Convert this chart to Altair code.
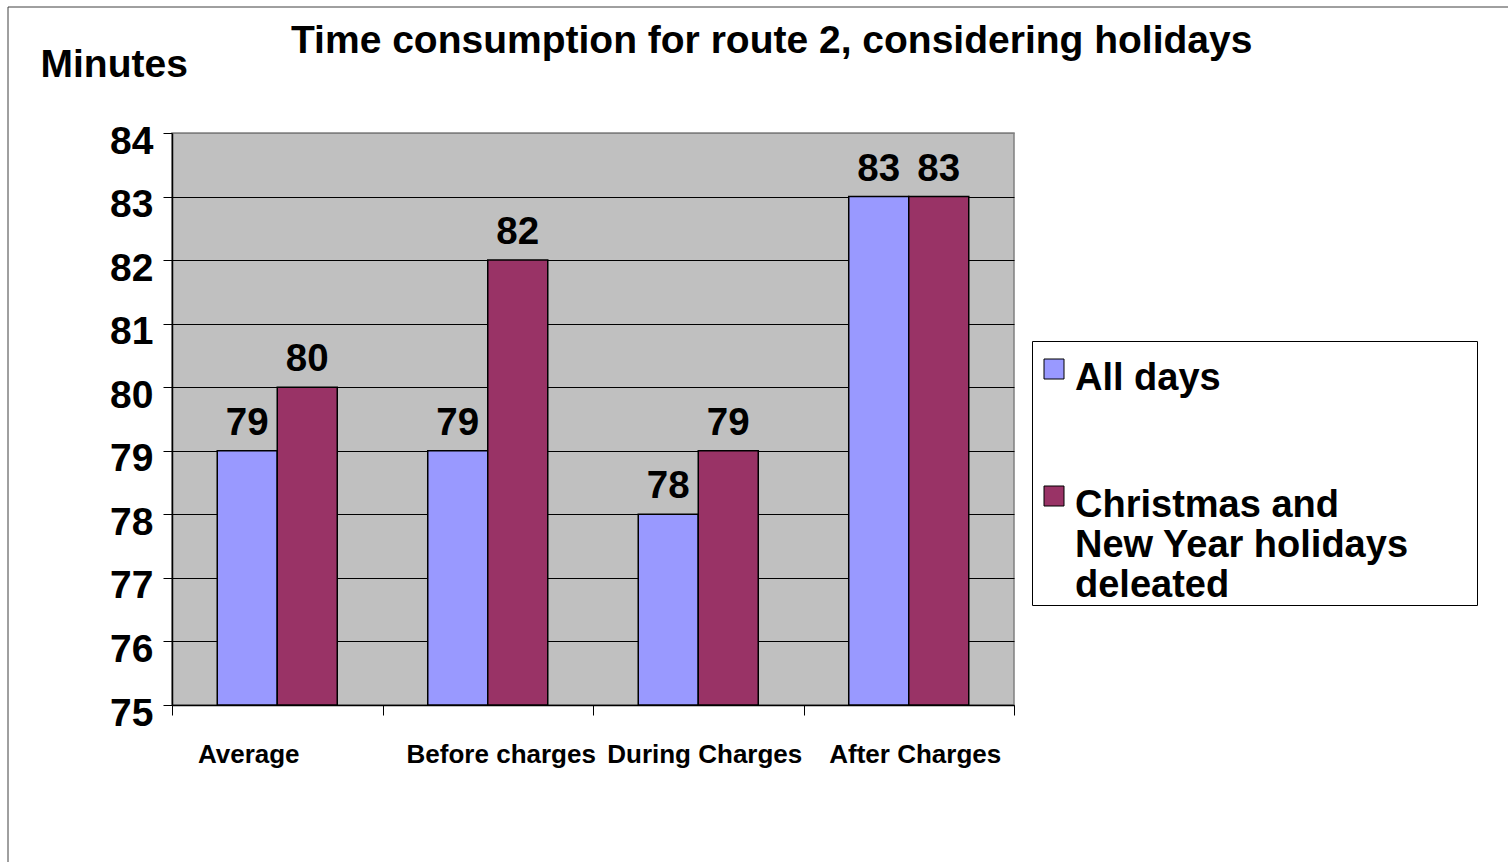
import altair as alt
import pandas as pd

# Source values
categories = ["Average", "Before charges", "During Charges", "After Charges"]
series_names = ["All days", "Christmas and New Year holidays deleated"]
all_days = [79, 79, 78, 83]
holidays_deleated = [80, 82, 79, 83]
y_ticks = [75, 76, 77, 78, 79, 80, 81, 82, 83, 84]
series_colors = ["#9999FF", "#993366"]

rows = []
for cat, a, b in zip(categories, all_days, holidays_deleated):
    rows.append({"category": cat, "series": series_names[0], "minutes": a})
    rows.append({"category": cat, "series": series_names[1], "minutes": b})
df = pd.DataFrame(rows)

FONT = "Liberation Sans"
W, H = 842, 572
LEFT, TOP = 172, 133
TOTAL_W, TOTAL_H = 1508, 862

x_enc = alt.X(
    "category:N",
    sort=categories,
    scale=alt.Scale(paddingInner=0, paddingOuter=0),
    axis=alt.Axis(
        title=None,
        labelAngle=0,
        tickBand="extent",
        tickSize=10,
        tickColor="black",
        tickWidth=1,
        domainColor="black",
        domainWidth=1.5,
        labelFont=FONT,
        labelFontSize=26,
        labelFontWeight="bold",
        labelColor="black",
        labelBaseline="alphabetic",
        labelPadding=47,
        labelLimit=400,
        labelOffset={
            "condition": [
                {"test": "datum.value == 'Average'", "value": -29},
                {"test": "datum.value == 'Before charges'", "value": 13},
            ],
            "value": 6,
        },
    ),
)

xoff_enc = alt.XOffset(
    "series:N",
    sort=series_names,
    scale=alt.Scale(paddingInner=0, paddingOuter=0.754),
)

y_enc = alt.Y(
    "minutes:Q",
    scale=alt.Scale(domain=[75, 84], zero=False, nice=False),
    axis=alt.Axis(
        title="Minutes",
        titleAngle=0,
        titleAlign="left",
        titleBaseline="alphabetic",
        titleX=-132,
        titleY=-57,
        titleFont=FONT,
        titleFontSize=39,
        titleFontWeight="bold",
        titleColor="black",
        values=y_ticks,
        format="d",
        tickSize=9,
        tickColor="black",
        domainColor="black",
        domainWidth=1.5,
        labelFont=FONT,
        labelFontSize=39,
        labelFontWeight="bold",
        labelColor="black",
        labelPadding=10,
        labelOffset=8,
        grid=True,
        gridColor={"condition": {"test": "datum.value == 84", "value": "#808080"}, "value": "black"},
        gridWidth=1,
        gridOpacity=1,
    ),
)

# The long series name is shown on three lines in the legend.
wrapped = ["Christmas and", "New Year holidays", "deleated"]
label_expr = (
    "datum.label == '" + series_names[1] + "' ? ["
    + ", ".join("'" + s + "'" for s in wrapped)
    + "] : datum.label"
)

# Square swatch, nudged so it sits level with the first line of a
# top-aligned label; the trailing move-to widens the legend frame.
swatch_path = "M-0.7,-0.1H1.3V1.9H-0.7Z M42.4,0.9Z"

legend = alt.Legend(
    title=None,
    orient="none",
    legendX=860,
    legendY=208,
    direction="vertical",
    symbolType=swatch_path,
    symbolSize=400,
    symbolStrokeColor="black",
    symbolStrokeWidth=1,
    symbolOpacity=1,
    labelFont=FONT,
    labelFontSize=38,
    labelFontWeight="bold",
    labelColor="black",
    labelBaseline="top",
    labelLimit=800,
    labelOffset=5,
    padding=0,
    rowPadding=70,
    strokeColor="black",
    fillColor="white",
    labelExpr=label_expr,
)

color_enc = alt.Color(
    "series:N",
    sort=series_names,
    scale=alt.Scale(domain=series_names, range=series_colors),
    legend=legend,
)

# Thin frame around the whole figure
frame = alt.Chart(pd.DataFrame({"k": [0]})).mark_rect(
    fillOpacity=0, stroke="#404040", strokeWidth=1
).encode(
    x=alt.value(8 - LEFT),
    x2=alt.value(TOTAL_W + 20 - LEFT),
    y=alt.value(7 - TOP),
    y2=alt.value(TOTAL_H + 20 - TOP),
)

bars = alt.Chart(df).mark_bar(stroke="black", strokeWidth=1.5).encode(
    x=x_enc,
    xOffset=xoff_enc,
    y=y_enc,
    y2=alt.datum(75),
    color=color_enc,
)

values = alt.Chart(df).mark_text(
    font=FONT, fontSize=38.5, fontWeight="bold", baseline="alphabetic", dy=-16, color="black"
).encode(
    x=alt.X("category:N", sort=categories),
    xOffset=xoff_enc,
    y=alt.Y("minutes:Q"),
    text=alt.Text("minutes:Q"),
)

chart = alt.layer(bars, values, frame).properties(
    width=W,
    height=H,
    autosize=alt.AutoSizeParams(type="none"),
    padding={"left": LEFT, "top": TOP, "right": TOTAL_W - LEFT - W, "bottom": TOTAL_H - TOP - H},
    background="white",
    title=alt.TitleParams(
        text="Time consumption for route 2, considering holidays",
        font=FONT,
        fontSize=39,
        fontWeight="bold",
        color="black",
        anchor="start",
        frame="group",
        dx=119,
        dy=85,
        baseline="alphabetic",
        offset=0,
    ),
).configure_view(
    fill="#C0C0C0", stroke="#808080", strokeWidth=1.5
)

chart.save("out.html", embed_options={"renderer": "svg", "actions": False})
